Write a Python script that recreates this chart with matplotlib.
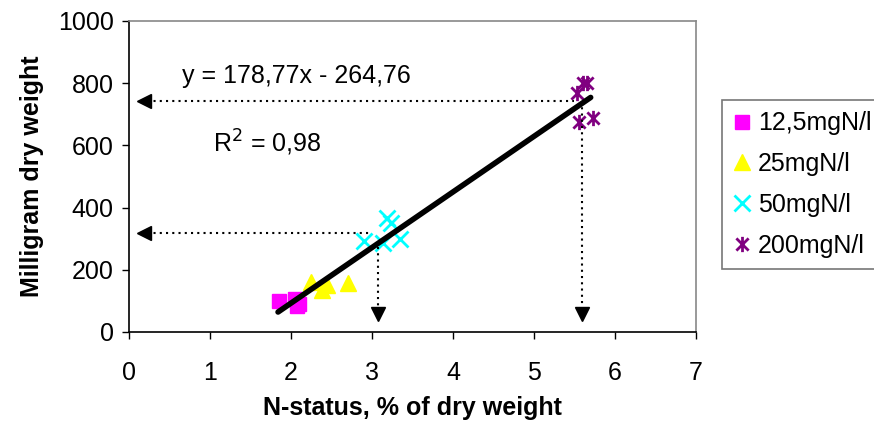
import matplotlib
matplotlib.use("Agg")
import matplotlib.pyplot as plt
import numpy as np
from matplotlib.path import Path

plt.rcParams['font.family'] = ['Liberation Sans', 'DejaVu Sans']

# Data
series_names = ["12,5mgN/l", "25mgN/l", "50mgN/l", "200mgN/l"]
x_125 = [1.85, 2.05, 2.10, 2.07]
y_125 = [100, 105, 90, 85]
x_25 = [2.25, 2.38, 2.45, 2.70]
y_25 = [162, 135, 150, 158]
x_50 = [2.90, 3.13, 3.18, 3.24, 3.35]
y_50 = [293, 285, 366, 352, 300]
x_200 = [5.53, 5.60, 5.66, 5.56, 5.73]
y_200 = [770, 800, 802, 675, 688]

slope = 178.77
intercept = -264.76
fit_x_range = [1.84, 5.70]
eq_text = "y = 178,77x - 264,76"
r2_text = "R$^2$ = 0,98"

# annotation arrows
arrow_x = [3.07, 5.59]
arrow_y = [318, 742]
arrow_h_end = [2.98, 5.50]
arrow_v_start = [273, 742]

xticks = [0, 1, 2, 3, 4, 5, 6, 7]
yticks = [0, 200, 400, 600, 800, 1000]

FS = 18

fig = plt.figure(figsize=(8.74, 4.32), dpi=100)
ax = fig.add_axes([0.1476, 0.2315, 0.6487, 0.7199])

# custom asterisk marker (X plus vertical line)
star = Path([(-1, -1), (1, 1), (-1, 1), (1, -1), (0, -1.25), (0, 1.25)],
            [Path.MOVETO, Path.LINETO, Path.MOVETO, Path.LINETO, Path.MOVETO, Path.LINETO])

# fit line
fx = np.array(fit_x_range)
ax.plot(fx, slope * fx + intercept, color='black', lw=4, solid_capstyle='round', zorder=3)

ax.plot(x_125, y_125, ls='none', marker='s', ms=10, color='#FF00FF', label=series_names[0], zorder=2)
ax.plot(x_25, y_25, ls='none', marker='^', ms=11, color='#FFFF00', label=series_names[1], zorder=2)
ax.plot(x_50, y_50, ls='none', marker='x', ms=11, mew=2, color='#00FFFF', label=series_names[2], zorder=2)
ax.plot(x_200, y_200, ls='none', marker=star, ms=11, mew=2, color='#800080', mfc='none', label=series_names[3], zorder=2)

# dotted arrows
for ax_x, ay, hend, vst in zip(arrow_x, arrow_y, arrow_h_end, arrow_v_start):
    ax.plot([0.15, hend], [ay, ay], ls=(0, (1, 2)), color='black', lw=1.5, zorder=4)
    ax.plot([0.19], [ay], marker='<', ms=10, color='black', ls='none', zorder=4)
    ax.plot([ax_x, ax_x], [vst, 55], ls=(0, (1, 2)), color='black', lw=1.5, zorder=4)
    ax.plot([ax_x], [58], marker='v', ms=10, color='black', ls='none', zorder=4)

ax.text(2.07, 822, eq_text, fontsize=FS, ha='center', va='center')
ax.text(1.04, 608, r2_text, fontsize=FS, ha='left', va='center')

ax.set_xlim(0, 7)
ax.set_ylim(0, 1000)
ax.set_xticks(xticks)
ax.set_yticks(yticks)
ax.tick_params(axis='both', labelsize=FS, length=5, width=1, direction='out')
ax.tick_params(axis='y', pad=6)
ax.tick_params(axis='x', pad=16)
for s in ['left', 'bottom']:
    ax.spines[s].set_color('black')
    ax.spines[s].set_linewidth(1.2)
for s in ['top', 'right']:
    ax.spines[s].set_color('#888888')
    ax.spines[s].set_linewidth(1.2)

ax.set_xlabel("N-status, % of dry weight", fontsize=FS, fontweight='bold', labelpad=8)
ax.set_ylabel("Milligram dry weight", fontsize=FS, fontweight='bold', labelpad=10)

leg = fig.legend(loc='upper left', bbox_to_anchor=(0.826, 0.7685), fontsize=FS,
                 frameon=True, fancybox=False, edgecolor='#555555', handlelength=0.7,
                 handletextpad=0.3, borderpad=0.45, labelspacing=0.67, borderaxespad=0)
leg.get_frame().set_linewidth(1.2)

fig.savefig("out.png", dpi=100)
